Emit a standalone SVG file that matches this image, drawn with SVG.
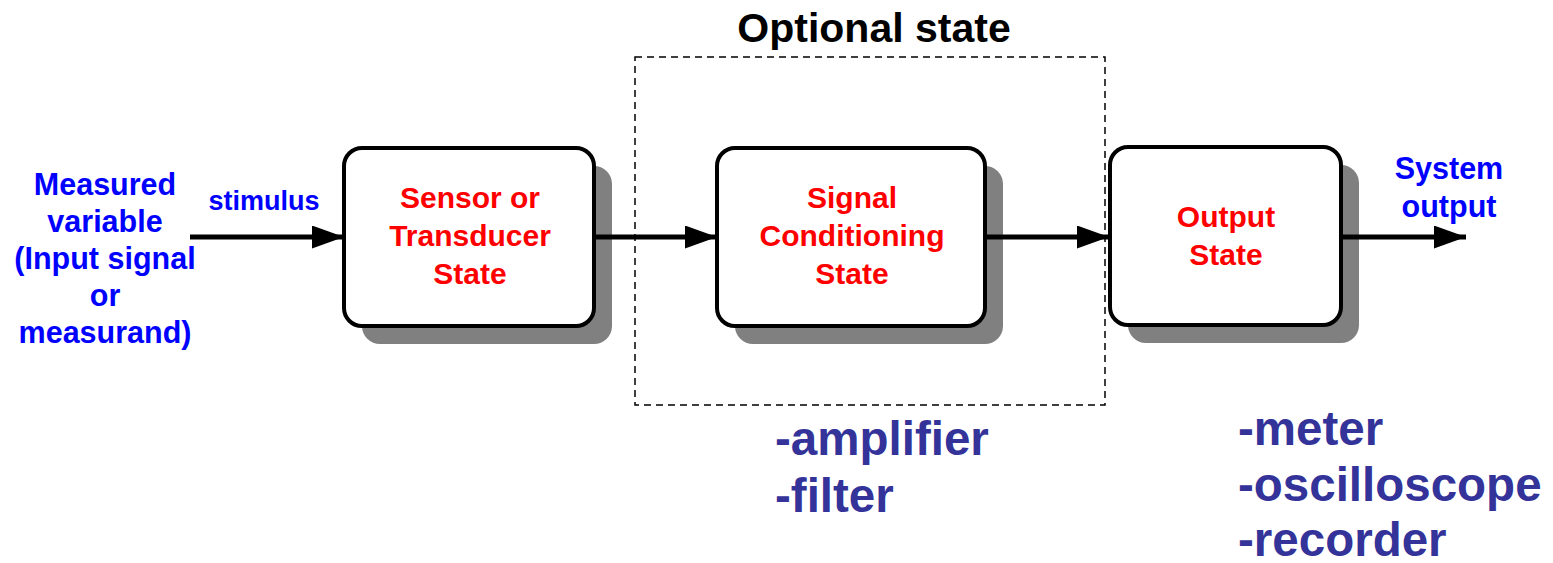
<svg xmlns="http://www.w3.org/2000/svg" width="1553" height="563" viewBox="0 0 1553 563">
<defs>
<style>
text{font-family:"Liberation Sans",Arial,sans-serif;font-weight:bold;text-anchor:middle}
.box{fill:#fff;stroke:#000;stroke-width:4}
.sh{fill:#808080}
.red{fill:#ff0000;font-size:30px}
.blue{fill:#0000ff;font-size:30.5px}
.list{fill:#333399;font-size:47.5px;text-anchor:start}
.conn{stroke:#000;stroke-width:5;fill:none;marker-end:url(#ah)}
</style>
<marker id="ah" markerUnits="userSpaceOnUse" markerWidth="34" markerHeight="24" refX="32" refY="11.5" orient="auto">
<path d="M0,0 L32,11.5 L0,23 Z" fill="#000"/>
</marker>
</defs>
<rect id="optional" x="635" y="57" width="470" height="348" fill="none" stroke="#000" stroke-width="1.5" stroke-dasharray="7,5"/>
<text x="874" y="42" style="font-size:41px;fill:#000">Optional state</text>
<g id="input">
<text class="blue" x="105" y="195">Measured</text>
<text class="blue" x="105" y="232">variable</text>
<text class="blue" x="105" y="269">(Input signal</text>
<text class="blue" x="105" y="306">or</text>
<text class="blue" x="105" y="343">measurand)</text>
</g>
<g id="sensor">
<rect class="sh" x="362" y="166" width="250" height="178" rx="18"/>
<rect class="box" x="344" y="148" width="250" height="178" rx="18"/>
<text class="red" x="470" y="208">Sensor or</text>
<text class="red" x="470" y="246">Transducer</text>
<text class="red" x="470" y="284">State</text>
</g>
<g id="conditioning">
<rect class="sh" x="735" y="166" width="268" height="178" rx="18"/>
<rect class="box" x="717" y="148" width="268" height="178" rx="18"/>
<text class="red" x="852" y="208">Signal</text>
<text class="red" x="852" y="246">Conditioning</text>
<text class="red" x="852" y="284">State</text>
</g>
<g id="output">
<rect class="sh" x="1128" y="165" width="231" height="178" rx="18"/>
<rect class="box" x="1110" y="147" width="231" height="178" rx="18"/>
<text class="red" x="1226" y="227">Output</text>
<text class="red" x="1226" y="265">State</text>
</g>
<g id="sysout">
<text class="blue" x="1449" y="179">System</text>
<text class="blue" x="1449" y="217">output</text>
</g>
<g id="connectors">
<line class="conn" x1="190" y1="237" x2="344" y2="237"/>
<line class="conn" x1="594" y1="237" x2="717" y2="237"/>
<line class="conn" x1="985" y1="237" x2="1109" y2="237"/>
<line class="conn" x1="1341" y1="237" x2="1466" y2="237"/>
</g>
<text x="264" y="210" style="fill:#0000ff;font-size:27px">stimulus</text>
<g id="list1">
<text class="list" x="775" y="455">-amplifier</text>
<text class="list" x="775" y="512">-filter</text>
</g>
<g id="list2">
<text class="list" x="1238" y="445">-meter</text>
<text class="list" x="1238" y="501">-oscilloscope</text>
<text class="list" x="1238" y="556">-recorder</text>
</g>
</svg>
